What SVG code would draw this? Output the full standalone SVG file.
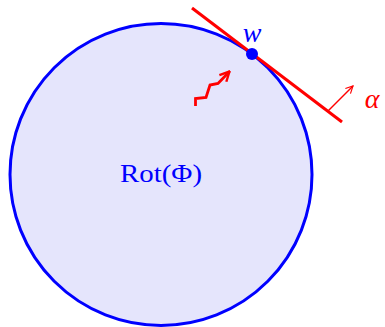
<svg xmlns="http://www.w3.org/2000/svg" width="385" height="327" viewBox="0 0 385 327">
<style>
.lbl{font-family:"Liberation Serif",serif;}
.red{stroke:#ff0000;fill:none;stroke-linecap:butt;stroke-linejoin:miter;}
</style>
<defs>
<marker id="ah" viewBox="0 0 10 10" refX="9" refY="5" markerWidth="9" markerHeight="9" markerUnits="userSpaceOnUse" orient="auto">
<path d="M1,1 L9,5 L1,9" fill="none" stroke="#ff0000" stroke-width="1.3"/>
</marker>
<marker id="ah2" viewBox="0 0 10 10" refX="9" refY="5" markerWidth="12" markerHeight="12" markerUnits="userSpaceOnUse" orient="auto">
<path d="M1,1 L9,5 L1,9" fill="none" stroke="#ff0000" stroke-width="2"/>
</marker>
</defs>
<g id="rot">
<circle cx="161" cy="174.5" r="151" fill="#e5e5fc" stroke="#0000ff" stroke-width="3"/>
<text class="lbl" x="161" y="182" font-size="25" fill="#0000ff" text-anchor="middle" textLength="82" lengthAdjust="spacingAndGlyphs">Rot(Φ)</text>
</g>
<g id="connectors">
<line class="red" x1="192" y1="8" x2="342" y2="122" stroke-width="3"/>
<line class="red" x1="328" y1="111" x2="353" y2="86" stroke-width="1.4" marker-end="url(#ah)"/>
<polyline class="red" points="195.5,106 195.5,98.5 206,97.5 210,85 218,83.5 229.5,71.5" stroke-width="2.8" marker-end="url(#ah2)"/>
</g>
<g id="w">
<circle cx="252" cy="54" r="6" fill="#0000ff"/>
<text class="lbl" x="252" y="42" font-size="28" font-style="italic" fill="#0000ff" text-anchor="middle">w</text>
</g>
<g id="alpha">
<text class="lbl" x="372" y="108" font-size="28" font-style="italic" fill="#ff0000" text-anchor="middle">α</text>
</g>
</svg>
